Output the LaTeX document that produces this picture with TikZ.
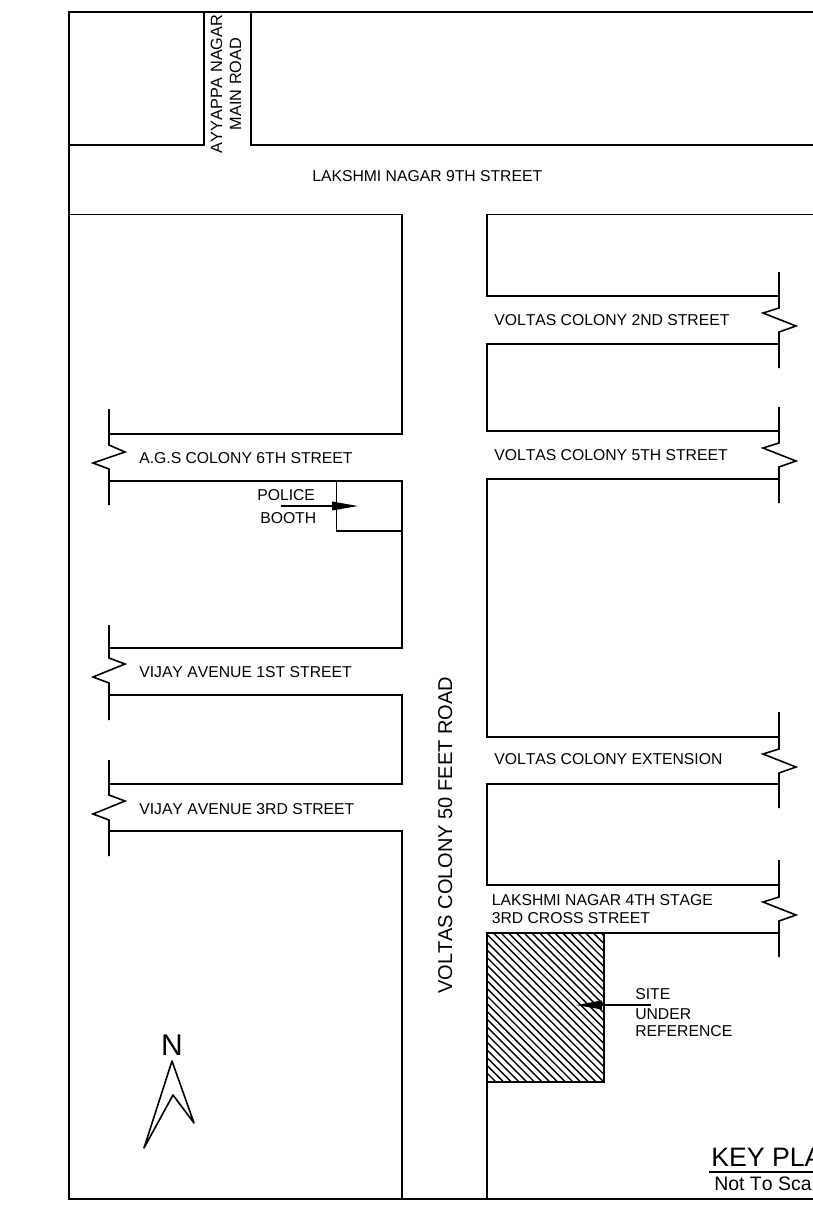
\documentclass[tikz,border=0pt]{standalone}
\usepackage{amsmath}
\usepackage{amssymb}
\usepackage{fontspec}
\setmainfont[Kerning=Off]{Liberation Sans}
\usetikzlibrary{arrows.meta}
\tikzset{
  road/.style={line width=1.2pt},
  streetlabel/.style={anchor=base west,inner sep=0pt,font=\fontsize{11.8pt}{14pt}\selectfont},
  pointer/.style={line width=1pt,-{Triangle[length=19.5pt,width=6.5pt]}},
}

\begin{document}
\begin{tikzpicture}[x=0.75pt,y=0.75pt,yscale=-1,xscale=1]
\useasboundingbox (0,0) rectangle (813,1209);
\clip (0,0) rectangle (813,1209);

%Shape: Hatch
\begin{scope}
\clip (487,933) rectangle (604,1082);
\foreach \i in {0,7.7,...,300}
  \draw [line width=1.05pt] (487-150+\i,933-10) -- (487-150+\i+180,933+170);
\end{scope}
\draw [road] (487,933) rectangle (604,1082);

%Straight Lines: frame
\draw [road] (813,12) -- (69,12) -- (69,1199) -- (813,1199);
%Straight Lines: top road
\draw [road] (69,145) -- (204,145) -- (204,12);
\draw [road] (251,12) -- (251,145) -- (813,145);
%Straight Lines: 9th street lower edge
\draw [road] (69,214.5) -- (402,214.5) -- (402,434) -- (109,434);
\draw [road] (813,214.5) -- (487,214.5) -- (487,296) -- (779,296);

%Straight Lines: left side
\draw [road] (109,409) -- (109,445) -- (125,452) -- (93,463) -- (109,469) -- (109,505);
\draw [road] (109,481) -- (402,481) -- (402,648) -- (109,648);
\draw [road] (336.5,481) -- (336.5,531) -- (402,531);
\draw [road] (109,625) -- (109,658) -- (125,664) -- (93,677) -- (109,683) -- (109,720);
\draw [road] (109,695) -- (402,695) -- (402,784) -- (109,784);
\draw [road] (109,760) -- (109,795) -- (125,801) -- (93,814) -- (109,820) -- (109,856);
\draw [road] (109,831) -- (402,831) -- (402,1199);

%Straight Lines: right side
\draw [road] (779,272) -- (779,308) -- (763,313) -- (796,326) -- (779,332) -- (779,368);
\draw [road] (779,344) -- (487,344) -- (487,431) -- (779,431);
\draw [road] (779,407) -- (779,443) -- (763,448) -- (796,461) -- (779,467) -- (779,503);
\draw [road] (779,479) -- (487,479) -- (487,737) -- (779,737);
\draw [road] (779,712) -- (779,749) -- (763,754) -- (796,767) -- (779,773) -- (779,808);
\draw [road] (779,784) -- (487,784) -- (487,885) -- (779,885);
\draw [road] (779,860) -- (779,897) -- (763,902) -- (796,915) -- (779,921) -- (779,957);
\draw [road] (779,933) -- (487,933) -- (487,1199);

%Straight Lines: pointers
\draw [pointer] (281,506) -- (358,506);
\draw [pointer] (651,1005) -- (576,1005);

%Shape: North arrow
\draw [road,line join=round] (172,1061) -- (194,1123) -- (173,1095) -- (144,1148) -- cycle;

%Straight Lines: key plan rule
\draw [road] (709,1172) -- (813,1172);

% Text Node
\node (ayyappaRoad) [inner sep=0pt,rotate=90,align=center,font=\fontsize{12.2pt}{14.2pt}\selectfont] at (226,84) {AYYAPPA NAGAR\\MAIN ROAD};
% Text Node
\node (ninthStreet) [streetlabel] at (312,181) {LAKSHMI NAGAR 9TH STREET};
% Text Node
\node (voltasSecond) [streetlabel] at (494,325) {VOLTAS COLONY 2ND STREET};
% Text Node
\node (voltasFifth) [streetlabel] at (494,460) {VOLTAS COLONY 5TH STREET};
% Text Node
\node (agsSixth) [streetlabel] at (139,463) {A.G.S COLONY 6TH STREET};
% Text Node
\node (policeLabel) [streetlabel] at (257,500) {POLICE};
% Text Node
\node (boothLabel) [streetlabel] at (260,523) {BOOTH};
% Text Node
\node (vijayFirst) [streetlabel] at (139,677) {VIJAY AVENUE 1ST STREET};
% Text Node
\node (voltasExtension) [streetlabel] at (494,764) {VOLTAS COLONY EXTENSION};
% Text Node
\node (vijayThird) [streetlabel] at (139,814) {VIJAY AVENUE 3RD STREET};
% Text Node
\node (stageFourth) [streetlabel] at (491.5,905) {LAKSHMI NAGAR 4TH STAGE};
% Text Node
\node (crossThird) [streetlabel] at (491.5,923) {3RD CROSS STREET};
% Text Node
\node (siteLabel) [streetlabel] at (635,999) {SITE};
% Text Node
\node (underLabel) [streetlabel] at (635,1019) {UNDER};
% Text Node
\node (referenceLabel) [streetlabel] at (635,1036) {REFERENCE};
% Text Node
\node (fiftyFeetRoad) [anchor=base west,inner sep=0pt,rotate=90,font=\fontsize{15pt}{18pt}\selectfont] at (452,994) {VOLTAS COLONY 50 FEET ROAD};
% Text Node
\node (northLabel) [anchor=base,inner sep=0pt,font=\fontsize{22.5pt}{26pt}\selectfont] at (172,1055) {N};
% Text Node
\node (keyPlan) [anchor=base west,inner sep=0pt,font=\fontsize{20pt}{24pt}\selectfont] at (711,1166) {KEY PLA};
% Text Node
\node (notToScale) [anchor=base west,inner sep=0pt,font=\fontsize{14.6pt}{18pt}\selectfont] at (714,1190) {Not To Sca};

\end{tikzpicture}
\end{document}
